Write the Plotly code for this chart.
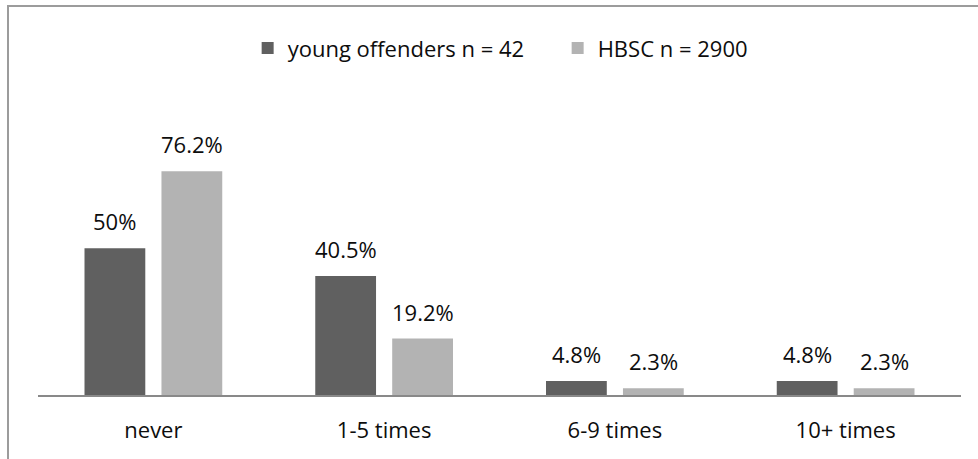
import plotly.graph_objects as go

# Frequency categories and percentages per group
categories = ["never", "1-5 times", "6-9 times", "10+ times"]
young_offenders = [50.0, 40.5, 4.8, 4.8]
hbsc = [76.2, 19.2, 2.3, 2.3]
series_names = ["young offenders n = 42", "HBSC n = 2900"]

DARK = "#606060"
LIGHT = "#b3b3b3"
FONT = "Open Sans"
TEXT = "#0d0d0d"

fig = go.Figure()
fig.add_trace(go.Bar(x=categories, y=young_offenders, name=series_names[0],
                     marker=dict(color=DARK, line=dict(width=0))))
fig.add_trace(go.Bar(x=categories, y=hbsc, name=series_names[1],
                     marker=dict(color=LIGHT, line=dict(width=0))))

# Value labels above each bar
annotations = []
for values, shift in ((young_offenders, -38.5), (hbsc, 38.5)):
    for cat, v in zip(categories, values):
        annotations.append(dict(
            x=cat, y=v, xref="x", yref="y", text=f"{v:g}%",
            showarrow=False, xshift=shift, yshift=27, yanchor="middle",
            font=dict(family=FONT, size=22, color=TEXT)))

fig.update_layout(
    width=978, height=459,
    margin=dict(l=38, r=17, t=160, b=64),
    paper_bgcolor="white", plot_bgcolor="white",
    barmode="group", bargap=0.333, bargroupgap=0.21,
    font=dict(family=FONT, size=22, color=TEXT),
    showlegend=True,
    legend=dict(orientation="h", x=0.563, xanchor="center",
                y=1.476, yanchor="middle",
                entrywidth=265, entrywidthmode="pixels",
                font=dict(family=FONT, size=22, color=TEXT),
                traceorder="normal"),
    annotations=annotations,
    shapes=[dict(type="rect", xref="paper", yref="paper",
                 x0=-0.0325, x1=1.2, y0=-0.6, y1=1.655,
                 line=dict(color="#9c9c9c", width=2), layer="below")],
)
fig.update_xaxes(showline=True, linecolor="#898989", linewidth=1.5,
                 showgrid=False, ticks="outside", ticklen=15,
                 tickcolor="rgba(0,0,0,0)",
                 tickfont=dict(family=FONT, size=22, color=TEXT))
fig.update_yaxes(range=[0, 80], visible=False, showgrid=False,
                 zeroline=False)

fig.write_html("out.html")
